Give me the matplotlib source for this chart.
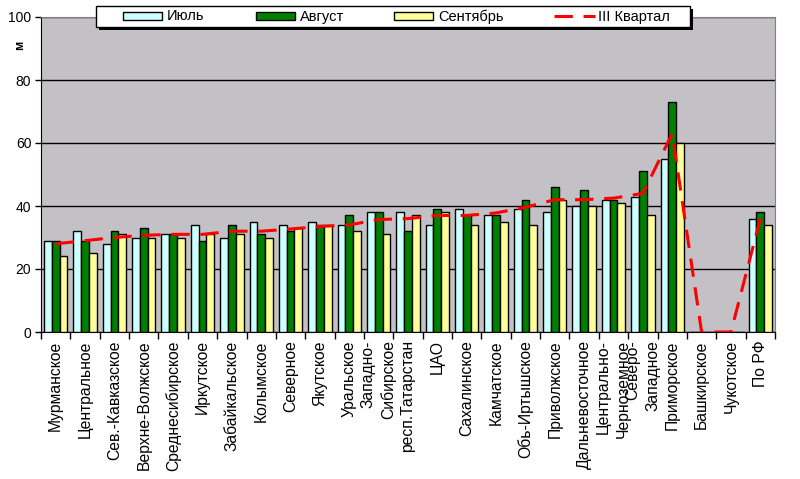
import numpy as np
import matplotlib.pyplot as plt
from matplotlib.lines import Line2D
from matplotlib.patches import Rectangle

plt.rcParams['font.family'] = ['Liberation Sans', 'DejaVu Sans']

regions = [
    "Мурманское", "Центральное", "Сев.-Кавказское", "Верхне-Волжское",
    "Среднесибирское", "Иркутское", "Забайкальское", "Колымское",
    "Северное", "Якутское", "Уральское", "Западно-\nСибирское",
    "респ.Татарстан", "ЦАО", "Сахалинское", "Камчатское",
    "Обь-Иртышское", "Приволжское", "Дальневосточное",
    "Центрально-\nЧерноземное", "Северо-\nЗападное", "Приморское",
    "Башкирское", "Чукотское", "По РФ",
]
july = [29, 32, 28, 30, 31, 34, 30, 35, 34, 35, 34, 38, 38,
        34, 39, 37, 39, 38, 40, 42, 43, 55, 0, 0, 36]
august = [29, 29, 32, 33, 31, 29, 34, 31, 32, 34, 37, 38, 32,
          39, 37, 37, 42, 46, 45, 42, 51, 73, 0, 0, 38]
september = [24, 25, 31, 30, 30, 31, 31, 30, 33, 34, 32, 31, 37,
             38, 34, 35, 34, 42, 40, 41, 37, 60, 0, 0, 34]
quarter = [28, 29, 30, 30.7, 31, 31, 32, 32, 32.7, 33.5, 34, 35.7, 36,
           37, 37, 37.8, 39.6, 42, 42, 42.5, 44, 63, 0, 0, 36]

series_names = ["Июль", "Август", "Сентябрь"]
series_colors = ["#CCFFFF", "#008000", "#FFFF99"]
line_name = "III Квартал"

W, H = 800, 479
fig = plt.figure(figsize=(W / 100, H / 100), dpi=100)
ax = fig.add_axes([41 / W, 1 - 332 / H, 734 / W, 315 / H])
ax.set_facecolor("#C3C1C5")
ax.set_axisbelow(True)

x = np.arange(len(regions))
w = 0.265
for off, vals, col in zip((-w, 0, w), (july, august, september), series_colors):
    ax.bar(x + off, vals, w, color=col, edgecolor="black", linewidth=1, zorder=3)
ax.plot(x, quarter, color="#FF0000", linewidth=2.2, dashes=(6, 3.5), zorder=4)

ax.set_xlim(-0.5, len(regions) - 0.5)
ax.set_ylim(0, 100)
ax.set_yticks(range(0, 101, 20))
ax.yaxis.grid(True, color="black", linewidth=1)
ax.tick_params(axis="y", direction="out", length=4, width=1, labelsize=10, pad=3)

ax.set_xticks(x)
ax.set_xticklabels(regions, rotation=90, fontsize=11.3, va="top", ha="center",
                   multialignment="right", linespacing=1.4)
ax.set_xticks(np.arange(-0.5, len(regions)), minor=True)
ax.tick_params(axis="x", which="major", length=0, pad=6)
ax.tick_params(axis="x", which="minor", direction="out", length=5, width=1)

for side in ("top", "right"):
    ax.spines[side].set_color("#808080")
for side in ("left", "bottom"):
    ax.spines[side].set_color("black")

fig.text(20 / W, 1 - 45 / H, "м", rotation=90, fontsize=9, fontweight="bold",
         ha="center", va="center")


# legend box drawn by hand (pixel coords from the top-left corner)
def fx(px):
    return px / W


def fy(py):
    return 1 - py / H


fig.patches.append(Rectangle((fx(99), fy(30)), fx(594), 21 / H, transform=fig.transFigure,
                             facecolor="black", edgecolor="none", zorder=10))
fig.patches.append(Rectangle((fx(96), fy(27)), fx(594), 21 / H, transform=fig.transFigure,
                             facecolor="white", edgecolor="black", linewidth=1, zorder=11))
for px, name, col in zip((123, 256, 394), series_names, series_colors):
    fig.patches.append(Rectangle((fx(px), fy(20)), fx(39), 8 / H, transform=fig.transFigure,
                                 facecolor=col, edgecolor="black", linewidth=1, zorder=12))
    fig.text(fx(px + 44), fy(16.5), name, fontsize=10.5, ha="left", va="center", zorder=13)
fig.lines.append(Line2D([fx(554), fx(595)], [fy(16), fy(16)], transform=fig.transFigure,
                        color="#FF0000", linewidth=2.2, dashes=(6, 3.5), zorder=12))
fig.text(fx(598), fy(16.5), line_name, fontsize=10.5, ha="left", va="center", zorder=13)

fig.savefig("out.png", dpi=100)
